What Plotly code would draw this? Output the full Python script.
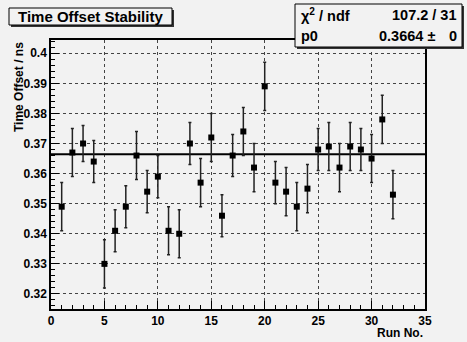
import plotly.graph_objects as go

# ---- data ----
run_no = list(range(1, 33))
time_offset = [0.349, 0.367, 0.370, 0.364, 0.330, 0.341, 0.349, 0.366, 0.354, 0.359,
               0.341, 0.340, 0.370, 0.357, 0.372, 0.346, 0.366, 0.374, 0.362, 0.389,
               0.357, 0.354, 0.349, 0.355, 0.368, 0.369, 0.362, 0.369, 0.368, 0.365,
               0.378, 0.353]
offset_err = [0.008, 0.008, 0.006, 0.007, 0.008, 0.007, 0.007, 0.008, 0.007, 0.007,
              0.008, 0.008, 0.007, 0.008, 0.008, 0.007, 0.007, 0.008, 0.008, 0.008,
              0.007, 0.008, 0.008, 0.008, 0.007, 0.008, 0.008, 0.008, 0.007, 0.008,
              0.008, 0.008]
fit_x = [0, 35]
fit_p0 = 0.3664
chi2_text = "107.2 / 31"
p0_text = "0.3664 \u00b1"
p0_err_text = "0"

BG = "#f2f2f2"
FONT = "Liberation Sans"

W, H = 467, 342
L, R, T, B = 51, 42, 40, 33
PW, PH = W - L - R, H - T - B

def px(x):
    return (x - L) / PW

def py(y):
    return (H - B - y) / PH

fig = go.Figure()

fig.add_trace(go.Scatter(
    x=fit_x, y=[fit_p0, fit_p0], mode="lines",
    line=dict(color="black", width=2), hoverinfo="skip", showlegend=False))

fig.add_trace(go.Scatter(
    x=run_no, y=time_offset, mode="markers",
    marker=dict(symbol="square", size=6, color="black"),
    error_y=dict(type="data", array=offset_err, visible=True,
                 color="#222222", thickness=1.5, width=1.5),
    showlegend=False))

shapes = []
annotations = []

def box(x0, y0, x1, y1):
    shapes.append(dict(type="rect", xref="paper", yref="paper",
                       x0=px(x0 + 2), x1=px(x1 + 2), y0=py(y1 + 2), y1=py(y0 + 2),
                       line=dict(width=0), fillcolor="#333333", layer="above"))
    shapes.append(dict(type="rect", xref="paper", yref="paper",
                       x0=px(x0), x1=px(x1), y0=py(y1), y1=py(y0),
                       line=dict(width=1, color="black"), fillcolor=BG, layer="above"))

# title box
box(9, 8, 172, 25)
annotations.append(dict(xref="paper", yref="paper", x=px(90.5), y=py(16.5),
                        text="Time Offset Stability", showarrow=False,
                        xanchor="center", yanchor="middle",
                        font=dict(family=FONT, size=15, color="black", weight="bold")))

# stats box
box(295, 4, 462, 47)
row1, row2 = 15, 36
SF = 14.5
annotations += [
    dict(xref="paper", yref="paper", x=px(299), y=py(row1), text="\u03c7<sup>2</sup> / ndf",
         showarrow=False, xanchor="left", yanchor="middle",
         font=dict(family=FONT, size=SF, color="black", weight="bold")),
    dict(xref="paper", yref="paper", x=px(459), y=py(row1), text=chi2_text,
         showarrow=False, xanchor="right", yanchor="middle",
         font=dict(family=FONT, size=SF, color="black", weight="bold")),
    dict(xref="paper", yref="paper", x=px(299), y=py(row2), text="p0",
         showarrow=False, xanchor="left", yanchor="middle",
         font=dict(family=FONT, size=SF, color="black", weight="bold")),
    dict(xref="paper", yref="paper", x=px(437), y=py(row2), text=p0_text,
         showarrow=False, xanchor="right", yanchor="middle",
         font=dict(family=FONT, size=SF, color="black", weight="bold")),
    dict(xref="paper", yref="paper", x=px(459), y=py(row2), text=p0_err_text,
         showarrow=False, xanchor="right", yanchor="middle",
         font=dict(family=FONT, size=SF, color="black", weight="bold")),
]

# axis titles
annotations.append(dict(xref="paper", yref="paper", x=px(19), y=1.0,
                        text="Time Offset / ns", textangle=-90, showarrow=False,
                        xanchor="center", yanchor="top",
                        font=dict(family=FONT, size=12, color="black", weight="bold")))
annotations.append(dict(xref="paper", yref="paper", x=1.0, y=py(333),
                        text="Run No.", showarrow=False,
                        xanchor="right", yanchor="middle",
                        font=dict(family=FONT, size=12, color="black", weight="bold")))

fig.update_layout(
    width=W, height=H,
    margin=dict(l=L, r=R, t=T, b=B, pad=0),
    paper_bgcolor=BG, plot_bgcolor=BG,
    shapes=shapes, annotations=annotations,
    font=dict(family=FONT, color="black"),
)

fig.update_xaxes(
    range=[0, 35], tick0=0, dtick=5, ticks="inside", ticklen=8, tickwidth=1,
    tickcolor="black", showline=True, linecolor="black", linewidth=1.5, mirror=True,
    showgrid=True, gridcolor="#444444", griddash="dot", gridwidth=1, zeroline=False,
    tickfont=dict(family=FONT, size=12, color="black", weight="bold"),
    minor=dict(ticks="inside", ticklen=4, dtick=1, tickcolor="black", showgrid=False),
)
fig.update_yaxes(
    range=[0.3150, 0.4044], tick0=0.32, dtick=0.01, ticks="inside", ticklen=8, tickwidth=1,
    tickcolor="black", showline=True, linecolor="black", linewidth=1.5, mirror=True,
    showgrid=True, gridcolor="#444444", griddash="dot", gridwidth=1, zeroline=False,
    tickfont=dict(family=FONT, size=12, color="black", weight="bold"),
    minor=dict(ticks="inside", ticklen=4, dtick=0.002, tickcolor="black", showgrid=False),
)

fig.write_html(
    "out.html",
    config={"displayModeBar": False},
    post_script="document.body.style.margin='0';document.body.style.padding='0';"
                "document.body.style.overflow='hidden';"
                "document.body.style.background='" + BG + "';",
)
